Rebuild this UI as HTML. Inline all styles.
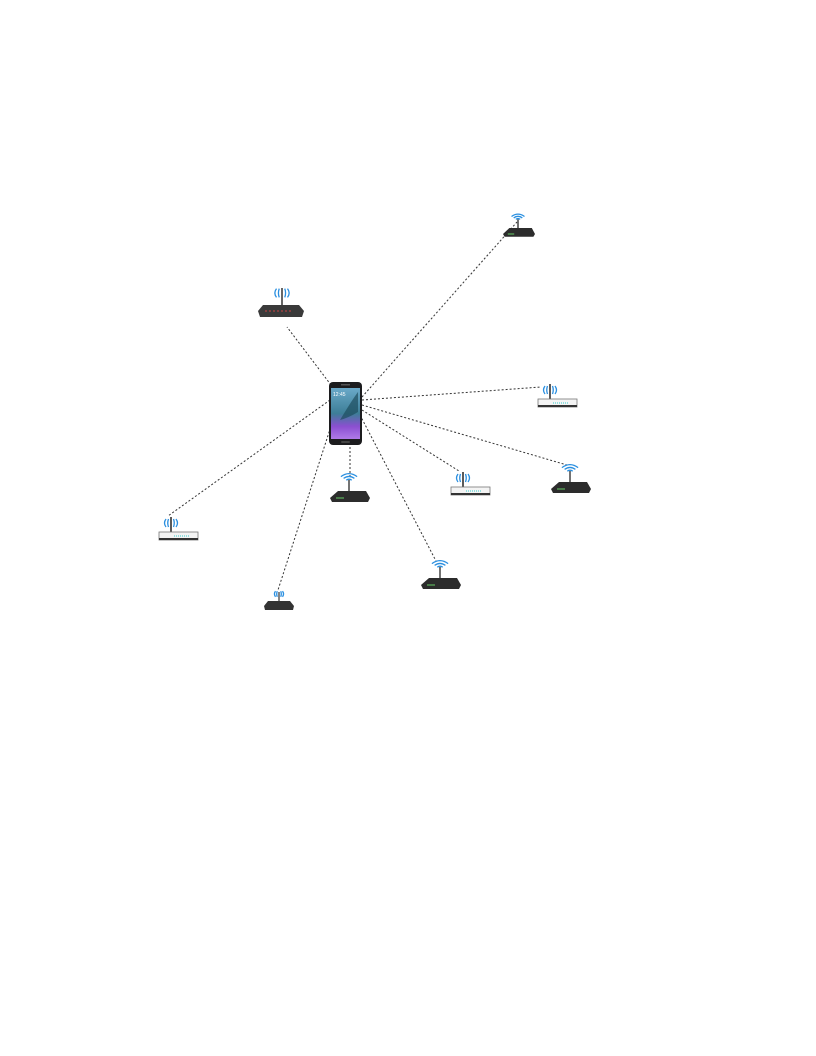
<!DOCTYPE html>
<html><head><meta charset="utf-8"><style>
html,body{margin:0;padding:0;background:#fff;}
svg{display:block;}
</style></head><body>
<svg id="chart" width="816" height="1056" viewBox="0 0 816 1056" xmlns="http://www.w3.org/2000/svg">
<defs>
<linearGradient id="scr" x1="0" y1="0" x2="0" y2="1">
<stop offset="0" stop-color="#6aa9c9"/><stop offset="0.5" stop-color="#3d7e97"/><stop offset="0.75" stop-color="#8a4fd0"/><stop offset="1" stop-color="#b07ae8"/>
</linearGradient>
</defs>
<g id="links"></g>
<g id="nodes"></g>
<g>
<rect x="329" y="382" width="33" height="63" rx="4" fill="#1c1c1e"/>
<rect x="331" y="388" width="29" height="51" fill="url(#scr)"/>
<path d="M340 420 Q352 400 358 392 L358 412 Q348 418 340 420Z" fill="#1e4d5e" opacity="0.7"/>
<rect x="341" y="384" width="9" height="1.5" fill="#555"/>
<rect x="341" y="441" width="9" height="2" rx="1" fill="#444"/>
<text x="333" y="396" font-family="Liberation Sans, sans-serif" font-size="5" fill="#fff">12:45</text>
</g>
</svg>
<script>
const nodeNames=['router-top-right','router-top-left','router-right-upper','router-right-lower','router-center-right','router-bottom-center','router-below-phone','router-bottom-left','router-left'];
const nodeX=[519,281,557,571,470,441,350,279,178];
const nodeY=[232,308,400,487,488,583,496,604,533];
const nodeType=['dark','gray','white','dark','white','dark','dark','graysm','white'];
const linkFromX=[362,331,362,362,362,360,350,333,330];
const linkFromY=[397,385,400,405,410,415,447,420,400];
const linkToX=[517,287,541,567,459,436,350,278,168];
const linkToY=[222,327,387,465,471,561,478,590,516];
const NS='http://www.w3.org/2000/svg';
const links=document.getElementById('links'), nodes=document.getElementById('nodes');
function el(t,a,p){const e=document.createElementNS(NS,t);for(const k in a)e.setAttribute(k,a[k]);p.appendChild(e);return e;}
for(let i=0;i<nodeNames.length;i++){
  const l=el('line',{x1:linkFromX[i],y1:linkFromY[i],x2:linkToX[i],y2:linkToY[i],stroke:'#333','stroke-width':1,'stroke-dasharray':'2,2'},links);
  
  
}
function wifiFan(g,x,y,s){
  for(let r=1;r<=3;r++){el('path',{d:`M${x-3*r*s} ${y-2*r*s} Q${x} ${y-4.2*r*s} ${x+3*r*s} ${y-2*r*s}`,stroke:'#2a8fe0','stroke-width':1.3,fill:'none'},g);}
}
function radiating(g,x,y,s){
  for(let r=1;r<=2;r++){
    el('path',{d:`M${x-2.5*r*s} ${y-4*s} Q${x-4*r*s} ${y} ${x-2.5*r*s} ${y+4*s}`,stroke:'#2a8fe0','stroke-width':1.3,fill:'none'},g);
    el('path',{d:`M${x+2.5*r*s} ${y-4*s} Q${x+4*r*s} ${y} ${x+2.5*r*s} ${y+4*s}`,stroke:'#2a8fe0','stroke-width':1.3,fill:'none'},g);
  }
}
for(let i=0;i<nodeNames.length;i++){
  const x=nodeX[i],y=nodeY[i],t=nodeType[i];
  const g=el('g',{},nodes);
  
  
  if(t==='dark'){
    const s=(i===0)?0.8:1;
    el('line',{x1:x-1,y1:y-2,x2:x-1,y2:y-16*s,stroke:'#444','stroke-width':1.5},g);
    wifiFan(g,x-1,y-14*s,0.9*s);
    el('polygon',{points:`${x-20*s},${y+2} ${x-12*s},${y-5*s} ${x+16*s},${y-5*s} ${x+20*s},${y+2} ${x+18*s},${y+6*s} ${x-18*s},${y+6*s}`,fill:'#2c2c2c'},g);
    el('line',{x1:x-14*s,y1:y+2,x2:x-6*s,y2:y+2,stroke:'#6c6','stroke-width':1},g);
  } else if(t==='white'){
    el('line',{x1:x-7,y1:y-1,x2:x-7,y2:y-16,stroke:'#222','stroke-width':1.5},g);
    radiating(g,x-7,y-10,1);
    el('rect',{x:x-19,y:y-1,width:39,height:8,fill:'#f4f4f4',stroke:'#777','stroke-width':0.8},g);
    el('rect',{x:x-19,y:y+5,width:39,height:2,fill:'#333'},g);
    el('line',{x1:x-4,y1:y+3,x2:x+12,y2:y+3,stroke:'#3cc','stroke-width':1,'stroke-dasharray':'1,1'},g);
  } else if(t==='gray'){
    el('line',{x1:x+1,y1:y-3,x2:x+1,y2:y-20,stroke:'#333','stroke-width':1.5},g);
    radiating(g,x+1,y-15,1.1);
    el('polygon',{points:`${x-23},${y+3} ${x-18},${y-3} ${x+18},${y-3} ${x+23},${y+3} ${x+21},${y+9} ${x-21},${y+9}`,fill:'#3a3a3a'},g);
    el('line',{x1:x-16,y1:y+3,x2:x+10,y2:y+3,stroke:'#c44','stroke-width':1,'stroke-dasharray':'2,2'},g);
  } else {
    el('line',{x1:x,y1:y-2,x2:x,y2:y-12,stroke:'#333','stroke-width':1.2},g);
    radiating(g,x,y-10,0.7);
    el('polygon',{points:`${x-15},${y+2} ${x-11},${y-3} ${x+11},${y-3} ${x+15},${y+2} ${x+14},${y+6} ${x-14},${y+6}`,fill:'#333'},g);
  }
}
</script>
</body></html>
